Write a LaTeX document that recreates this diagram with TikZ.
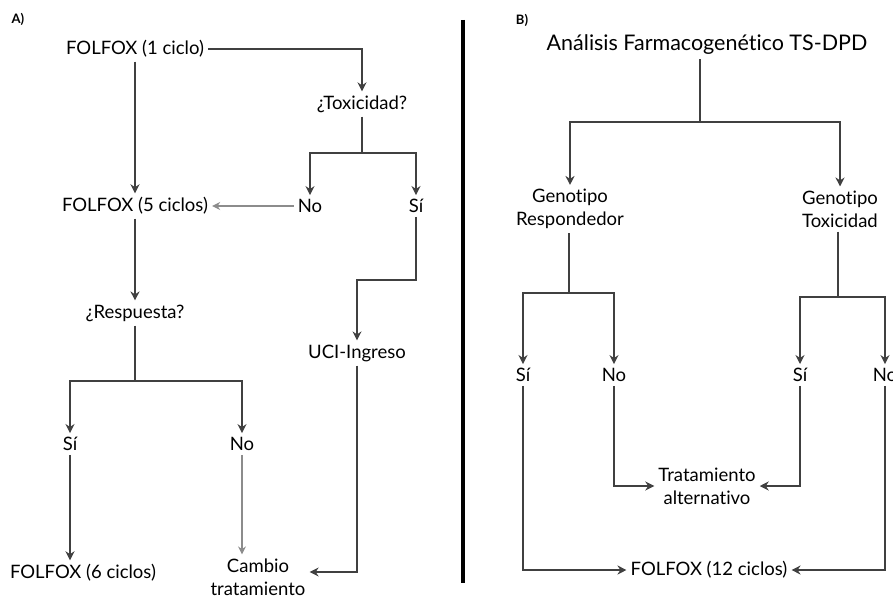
\documentclass[tikz,border=0pt]{standalone}
\usepackage{fontspec}
\setmainfont{Lato}[Ligatures=NoCommon]
\usetikzlibrary{arrows.meta,positioning,calc}

\begin{document}
\begin{tikzpicture}[
    x=1pt, y=-1pt,
    every node/.style={font=\fontsize{18.5}{23}\selectfont, align=center, inner sep=4pt},
    panel/.style={font=\bfseries\fontsize{13}{15}\selectfont, inner sep=0pt},
    title/.style={font=\fontsize{21.5}{26}\selectfont},
    link/.style={draw=black!75, line width=1.8pt},
    flow/.style={link, -{Stealth[length=9pt,width=9pt]}},
    weak/.style={draw=black!45, line width=1.2pt, -{Stealth[length=8pt,width=8pt]}},
]
    \useasboundingbox (0,0) rectangle (893,596);

    % Panel A: clinical flow
    \node[panel] (labA) at (18,19) {A)};
    \node (f1) at (135,49) {FOLFOX (1 ciclo)};
    \node (tox) at (362,104) {¿Toxicidad?};
    \node (noA) at (310,206) {No};
    \node (siA) at (416,206) {Sí};
    \node (f5) at (135,206) {FOLFOX (5 ciclos)};
    \node (uci) at (357,353) {UCI-Ingreso};
    \node (resp) at (135,313) {¿Respuesta?};
    \node (siB) at (70,444) {Sí};
    \node (noB) at (242,444) {No};
    \node (f6) at (83,573) {FOLFOX (6 ciclos)};
    \node (cambio) at (258,577) {Cambio\\tratamiento};

    \coordinate (toxj) at (362,153);
    \coordinate (ucib) at (357,280);
    \coordinate (respj) at (135,381);

    \draw[flow] (f1.east) -| (tox);
    \draw[flow] (f1) -- (f5);
    \draw[link] (tox) -- (toxj);
    \draw[flow] (toxj) -| (noA);
    \draw[flow] (toxj) -| (siA);
    \draw[weak] (noA) -- (f5);
    \draw[flow] (siA) |- (ucib) -- (uci);
    \draw[flow] (uci) |- ([yshift=5pt]cambio.east);
    \draw[flow] (f5) -- (resp);
    \draw[link] (resp) -- (respj);
    \draw[flow] (respj) -| (siB);
    \draw[flow] (respj) -| (noB);
    \draw[flow] (siB) -- (siB |- f6.north);
    \draw[weak] (noB) -- (noB |- cambio.north);

    % Divider
    \coordinate (divtop) at (463,20);
    \coordinate (divbot) at (463,583);
    \draw[line width=3.5pt] (divtop) -- (divbot);

    % Panel B: pharmacogenetic flow
    \node[panel] (labB) at (522,20) {B)};
    \node[title] (pgx) at (707,45) {Análisis Farmacogenético TS-DPD};
    \node (gres) at (570,209) {Genotipo\\Respondedor};
    \node (gtox) at (840,209) {Genotipo\\Toxicidad};
    \node (siC) at (523,375) {Sí};
    \node (noC) at (614,375) {No};
    \node (siD) at (800,375) {Sí};
    \node (noD) at (885,375) {No};
    \node (alt) at (707,486) {Tratamiento\\alternativo};
    \node (f12) at (709,570) {FOLFOX (12 ciclos)};

    \coordinate (pgxj) at (700,122);
    \coordinate (gresj) at (569,293);
    \coordinate (gtoxj) at (838,297);

    \draw[link] (pgx.south -| pgxj) -- (pgxj);
    \draw[flow] (pgxj) -| (gres);
    \draw[flow] (pgxj) -| (gtox);
    \draw[link] (gres.south -| gresj) -- (gresj);
    \draw[flow] (gresj) -| (siC);
    \draw[flow] (gresj) -| (noC);
    \draw[link] (gtox.south -| gtoxj) -- (gtoxj);
    \draw[flow] (gtoxj) -| (siD);
    \draw[flow] (gtoxj) -| (noD);
    \draw[flow] (noC) |- (alt);
    \draw[flow] (siD) |- (alt);
    \draw[flow] (siC) |- (f12);
    \draw[flow] (noD) |- (f12);
\end{tikzpicture}
\end{document}
